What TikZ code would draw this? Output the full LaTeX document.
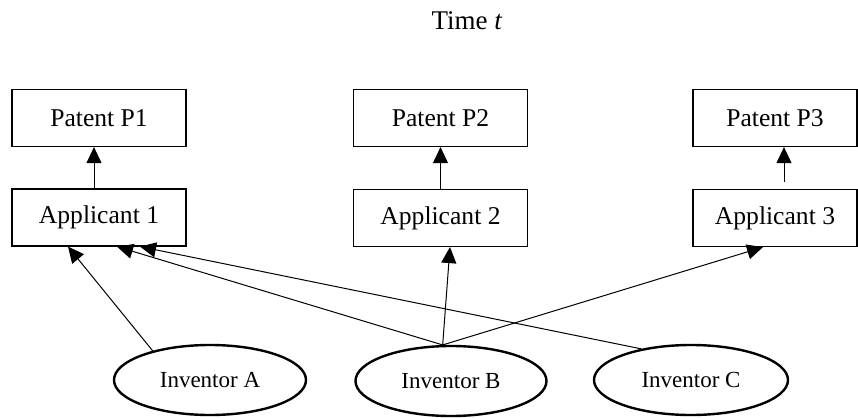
\documentclass[tikz,border=0pt]{standalone}
\usepackage{fontspec}
\setmainfont{Liberation Serif}
\usetikzlibrary{arrows.meta,shapes.geometric}

\begin{document}
\begin{tikzpicture}[x=0.5pt, y=-0.5pt,
	box/.style={draw, line width=0.6pt, minimum width=87pt, minimum height=28.5pt,
	inner sep=0pt, font=\fontsize{12.8}{15}\selectfont},
	inventor/.style={draw, ellipse, line width=1.2pt, minimum width=96pt,
	minimum height=35pt, inner sep=0pt, font=\fontsize{11.5}{14}\selectfont},
	link/.style={line width=0.5pt, -{Triangle[length=8pt,width=7.5pt]}}]
	\useasboundingbox (0, 0) rectangle (858, 418);
	% Zeit
	\node (time) at (467, 21) {\fontsize{13.5}{16}\selectfont Time \textit{t}};
	% Patente
	\node[box] (pat1) at (99, 118) {Patent P1};
	\node[box] (pat2) at (440.5, 118) {Patent P2};
	\node[box, minimum width=82pt] (pat3) at (775, 118) {Patent P3};
	% Anmelder
	\node[box] (app1) at (99, 217.5) {Applicant 1};
	\node[box] (app2) at (440.5, 218) {Applicant 2};
	\node[box, minimum width=82pt] (app3) at (775, 218) {Applicant 3};
	% Erfinder
	\node[inventor] (invA) at (210, 380) {Inventor A};
	\node[inventor, minimum width=95.5pt] (invB) at (451, 381) {Inventor B};
	\node[inventor, minimum width=97pt] (invC) at (691, 380) {Inventor C};
	% Anmelder -> Patent
	\draw[link] ([xshift=-2.5pt]app1.north) -- ([xshift=-2.5pt]pat1.south);
	\draw[link] (app2.north) -- (pat2.south);
	\draw[link] ([xshift=4.5pt, yshift=3.5pt]app3.north) -- ([xshift=4.5pt]pat3.south);
	% Erfinder -> Anmelder
	\draw[link] (invA.153) -- ([xshift=-15.5pt]app1.south);
	\draw[link] (invB.103) -- ([xshift=9pt]app1.south);
	\draw[link] (invC.148) -- ([xshift=20.5pt]app1.south);
	\draw[link] (invB.103) -- ([xshift=4.75pt]app2.south);
	\draw[link] (invB.103) -- ([xshift=-6pt]app3.south);
\end{tikzpicture}
\end{document}
